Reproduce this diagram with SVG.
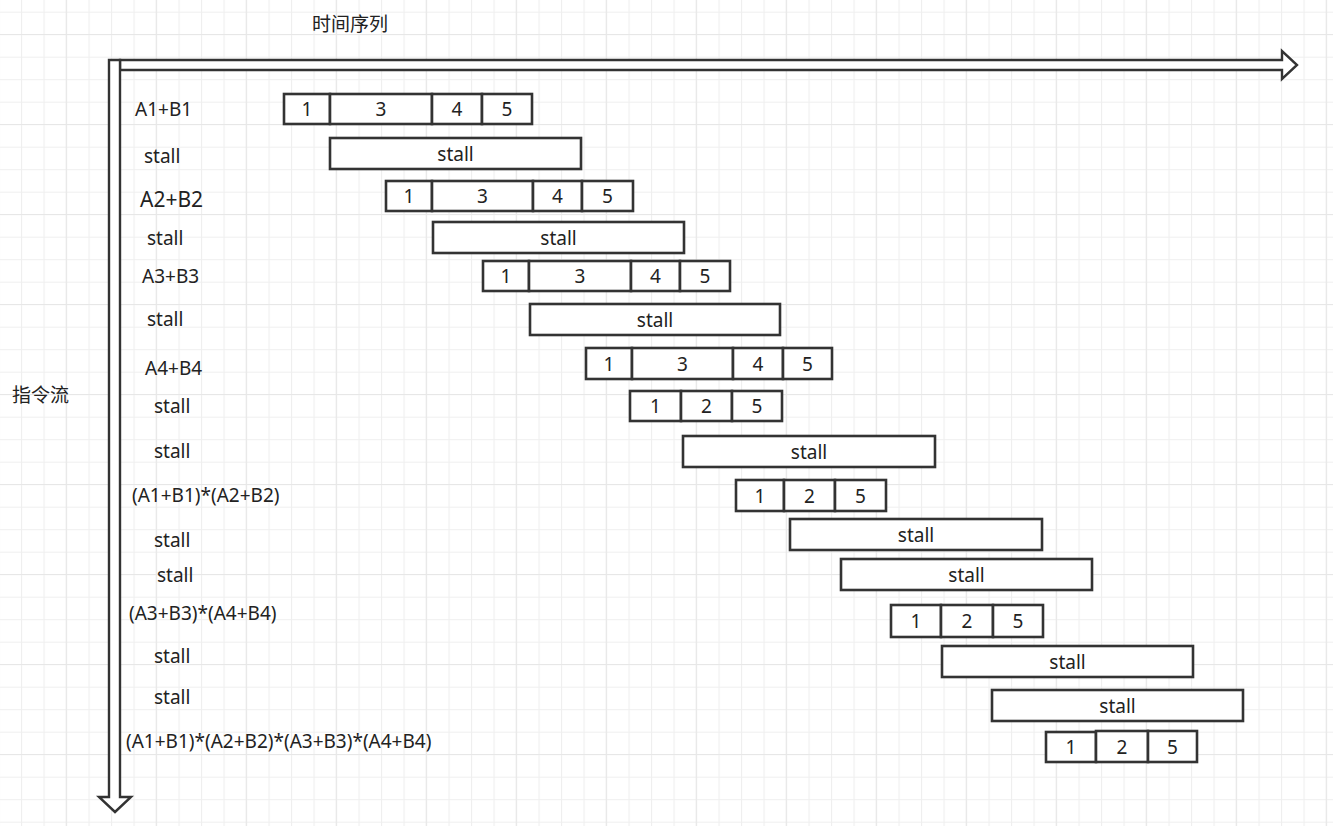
<svg xmlns="http://www.w3.org/2000/svg" width="1333" height="826" viewBox="0 0 1333 826">
<defs>
<pattern id="g" patternUnits="userSpaceOnUse" x="21" y="11.7" width="22.5" height="22.5"><path d="M0.5 0V22.5M0 0.5H22.5" stroke="#efefef" stroke-width="1.2" fill="none"/></pattern>
<pattern id="G" patternUnits="userSpaceOnUse" x="65.7" y="34" width="90" height="90"><path d="M0.5 0V90M0 0.5H90" stroke="#e7e7e7" stroke-width="1.2" fill="none"/></pattern>
<style>
.b{fill:#fff;stroke:#333;stroke-width:2.6}
.a{fill:#fff;stroke:#333;stroke-width:2.4;stroke-linejoin:miter}
.t{font-family:"Noto Sans","Noto Sans CJK SC",sans-serif;font-size:19px;fill:#222;text-anchor:middle;dominant-baseline:central}
.l{font-family:"Noto Sans","Noto Sans CJK SC",sans-serif;font-size:19px;fill:#222;dominant-baseline:central}
.c{font-family:"Noto Sans CJK SC",sans-serif;font-size:19px;fill:#222;dominant-baseline:central}
</style>
</defs>
<rect width="1333" height="826" fill="#fff"/>
<rect width="1333" height="826" fill="url(#g)"/>
<rect width="1333" height="826" fill="url(#G)"/>

<g id="axes">
<polygon class="a" points="120,60 1282,60 1282,51 1297,65 1282,79 1282,70 120,70"/>
<polygon class="a" points="109,60 120,60 120,797 131,797 115,812 99,797 109,797"/>
<text class="c" x="312" y="22">时间序列</text>
<text class="c" x="12" y="393">指令流</text>
</g>

<g id="labels">
<text class="l" x="135" y="109">A1+B1</text>
<text class="l" x="144" y="156">stall</text>
<text class="l" x="140" y="199" style="font-size:21px">A2+B2</text>
<text class="l" x="147" y="238">stall</text>
<text class="l" x="142" y="276">A3+B3</text>
<text class="l" x="147" y="319">stall</text>
<text class="l" x="145" y="368">A4+B4</text>
<text class="l" x="154" y="406">stall</text>
<text class="l" x="154" y="451">stall</text>
<text class="l" x="132" y="495">(A1+B1)*(A2+B2)</text>
<text class="l" x="154" y="540">stall</text>
<text class="l" x="157" y="575">stall</text>
<text class="l" x="129" y="613">(A3+B3)*(A4+B4)</text>
<text class="l" x="154" y="656">stall</text>
<text class="l" x="154" y="697">stall</text>
<text class="l" x="126" y="741">(A1+B1)*(A2+B2)*(A3+B3)*(A4+B4)</text>
</g>

<g id="row1">
<rect class="b" x="284" y="94" width="46" height="30"/><text class="t" x="307" y="109">1</text>
<rect class="b" x="330" y="94" width="102" height="30"/><text class="t" x="381" y="109">3</text>
<rect class="b" x="432" y="94" width="50" height="30"/><text class="t" x="457" y="109">4</text>
<rect class="b" x="482" y="94" width="50" height="30"/><text class="t" x="507" y="109">5</text>
</g>
<g id="stall1"><rect class="b" x="330" y="138" width="251" height="31"/><text class="t" x="455.5" y="153.5">stall</text></g>

<g id="row2">
<rect class="b" x="386" y="181" width="46" height="30"/><text class="t" x="409" y="196">1</text>
<rect class="b" x="432" y="181" width="101" height="30"/><text class="t" x="482.5" y="196">3</text>
<rect class="b" x="533" y="181" width="49" height="30"/><text class="t" x="557.5" y="196">4</text>
<rect class="b" x="582" y="181" width="51" height="30"/><text class="t" x="607.5" y="196">5</text>
</g>
<g id="stall2"><rect class="b" x="433" y="222" width="251" height="31"/><text class="t" x="558.5" y="237.5">stall</text></g>

<g id="row3">
<rect class="b" x="483" y="261" width="46" height="30"/><text class="t" x="506" y="276">1</text>
<rect class="b" x="529" y="261" width="102" height="30"/><text class="t" x="580" y="276">3</text>
<rect class="b" x="631" y="261" width="49" height="30"/><text class="t" x="655.5" y="276">4</text>
<rect class="b" x="680" y="261" width="50" height="30"/><text class="t" x="705" y="276">5</text>
</g>
<g id="stall3"><rect class="b" x="530" y="304" width="250" height="31"/><text class="t" x="655" y="319.5">stall</text></g>

<g id="row4">
<rect class="b" x="586" y="348" width="46" height="31"/><text class="t" x="609" y="363.5">1</text>
<rect class="b" x="632" y="348" width="101" height="31"/><text class="t" x="682.5" y="363.5">3</text>
<rect class="b" x="733" y="348" width="50" height="31"/><text class="t" x="758" y="363.5">4</text>
<rect class="b" x="783" y="348" width="49" height="31"/><text class="t" x="807.5" y="363.5">5</text>
</g>

<g id="row5">
<rect class="b" x="630" y="391" width="51" height="30"/><text class="t" x="655.5" y="406">1</text>
<rect class="b" x="681" y="391" width="51" height="30"/><text class="t" x="706.5" y="406">2</text>
<rect class="b" x="732" y="391" width="50" height="30"/><text class="t" x="757" y="406">5</text>
</g>
<g id="stall4"><rect class="b" x="683" y="436" width="252" height="31"/><text class="t" x="809" y="451.5">stall</text></g>

<g id="row6">
<rect class="b" x="736" y="480" width="48" height="31"/><text class="t" x="760" y="495.5">1</text>
<rect class="b" x="784" y="480" width="51" height="31"/><text class="t" x="809.5" y="495.5">2</text>
<rect class="b" x="835" y="480" width="51" height="31"/><text class="t" x="860.5" y="495.5">5</text>
</g>
<g id="stall5"><rect class="b" x="790" y="519" width="252" height="31"/><text class="t" x="916" y="534.5">stall</text></g>
<g id="stall6"><rect class="b" x="841" y="559" width="251" height="31"/><text class="t" x="966.5" y="574.5">stall</text></g>

<g id="row7">
<rect class="b" x="891" y="605" width="50" height="32"/><text class="t" x="916" y="621">1</text>
<rect class="b" x="941" y="605" width="52" height="32"/><text class="t" x="967" y="621">2</text>
<rect class="b" x="993" y="605" width="50" height="32"/><text class="t" x="1018" y="621">5</text>
</g>
<g id="stall7"><rect class="b" x="942" y="646" width="251" height="31"/><text class="t" x="1067.5" y="661.5">stall</text></g>
<g id="stall8"><rect class="b" x="992" y="690" width="251" height="31"/><text class="t" x="1117.5" y="705.5">stall</text></g>

<g id="row8">
<rect class="b" x="1046" y="732" width="50" height="30"/><text class="t" x="1071" y="747">1</text>
<rect class="b" x="1096" y="731" width="52" height="31"/><text class="t" x="1122" y="746.5">2</text>
<rect class="b" x="1148" y="731" width="49" height="31"/><text class="t" x="1172.5" y="746.5">5</text>
</g>
</svg>
